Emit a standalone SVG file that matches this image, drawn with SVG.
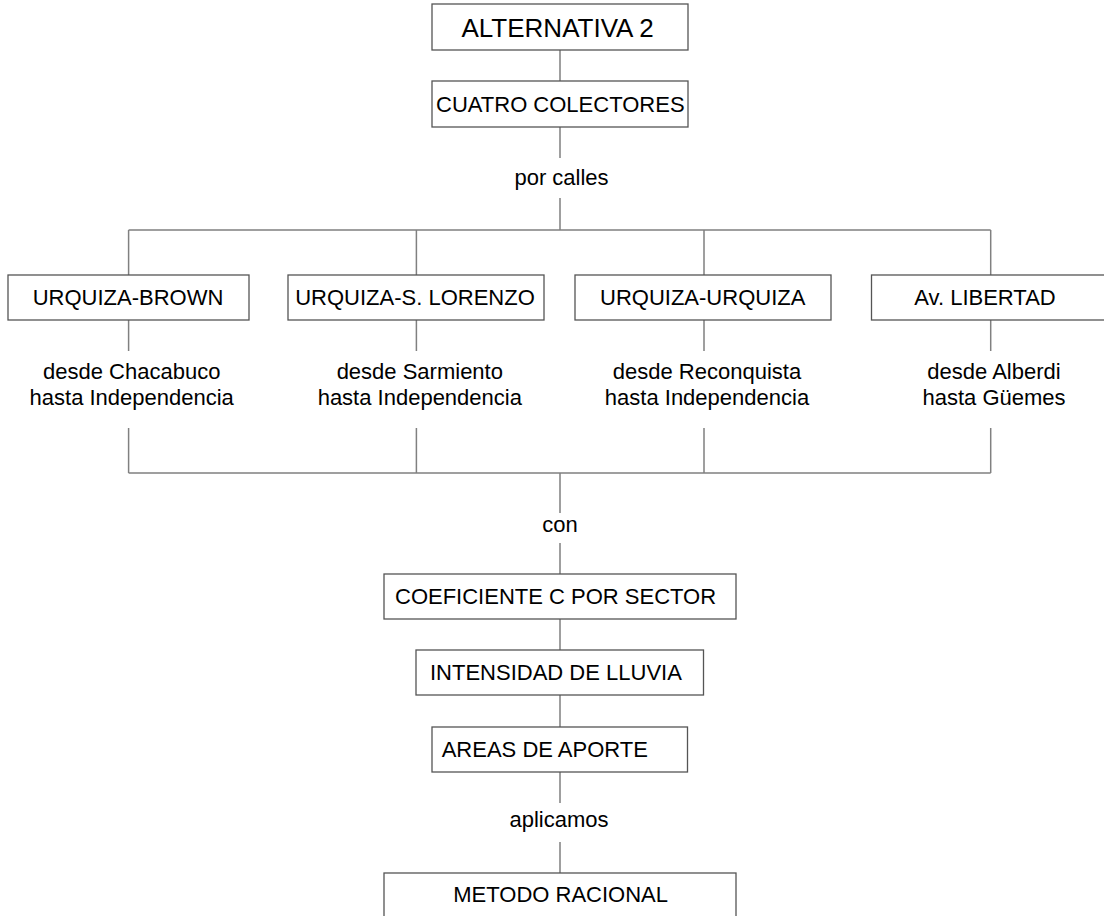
<svg xmlns="http://www.w3.org/2000/svg" width="1104" height="916" viewBox="0 0 1104 916">
<style>
.box{fill:#fff;stroke:#555;stroke-width:1.3}
.c{fill:none;stroke:#808080;stroke-width:1.5}
text{font-family:"Liberation Sans",Arial,sans-serif;font-size:22px;fill:#000}
.m{text-anchor:middle}
</style>
<rect width="1104" height="916" fill="#fff"/>
<g id="connectors">
<path class="c" d="M560,50V81M560,127V158M560,198V230M128.6,230H990.7M128.6,230V275M416.4,230V275M704,230V275M990.7,230V275"/>
<path class="c" d="M128.6,320V351M416.4,320V351M704,320V351M990.7,320V351"/>
<path class="c" d="M128.6,428V473M416.4,428V473M704,428V473M990.7,428V473M128.6,473H990.7M560,473V513M560,543V574"/>
<path class="c" d="M560,619V650M560,695V727M560,772V803M560,842V873"/>
</g>
<g id="n-alternativa"><rect class="box" x="432" y="4" width="256" height="46"/><text x="461.5" y="37" style="font-size:26px">ALTERNATIVA 2</text></g>
<g id="n-cuatro"><rect class="box" x="432" y="81" width="256" height="46"/><text x="436" y="111.5">CUATRO COLECTORES</text></g>
<g id="l-porcalles"><text class="m" x="561.5" y="185">por calles</text></g>
<g id="n-brown"><rect class="box" x="8" y="275" width="241" height="45"/><text class="m" x="128" y="305">URQUIZA-BROWN</text></g>
<g id="n-slorenzo"><rect class="box" x="288" y="275" width="256" height="45"/><text class="m" x="415" y="305">URQUIZA-S. LORENZO</text></g>
<g id="n-urquiza"><rect class="box" x="575" y="275" width="256" height="45"/><text class="m" x="702.7" y="305">URQUIZA-URQUIZA</text></g>
<g id="n-libertad"><rect class="box" x="871.5" y="275" width="256" height="45"/><text class="m" x="985" y="305">Av. LIBERTAD</text></g>
<g id="l-brown"><text class="m" x="131.7" y="379">desde Chacabuco</text><text class="m" x="131.7" y="405">hasta Independencia</text></g>
<g id="l-slorenzo"><text class="m" x="419.8" y="379">desde Sarmiento</text><text class="m" x="419.8" y="405">hasta Independencia</text></g>
<g id="l-urquiza"><text class="m" x="707" y="379">desde Reconquista</text><text class="m" x="707" y="405">hasta Independencia</text></g>
<g id="l-libertad"><text class="m" x="994" y="379">desde Alberdi</text><text class="m" x="994" y="405">hasta Güemes</text></g>
<g id="l-con"><text class="m" x="560" y="532">con</text></g>
<g id="n-coef"><rect class="box" x="384" y="574" width="352" height="45"/><text x="395" y="603.5">COEFICIENTE C POR SECTOR</text></g>
<g id="n-intens"><rect class="box" x="416" y="650" width="287.5" height="45"/><text x="430" y="680">INTENSIDAD DE LLUVIA</text></g>
<g id="n-areas"><rect class="box" x="432" y="727" width="255.5" height="45"/><text x="441.7" y="756.7">AREAS DE APORTE</text></g>
<g id="l-aplicamos"><text class="m" x="559" y="826.7">aplicamos</text></g>
<g id="n-metodo"><rect class="box" x="384" y="873" width="352" height="60"/><text x="453.3" y="901.7">METODO RACIONAL</text></g>
</svg>
